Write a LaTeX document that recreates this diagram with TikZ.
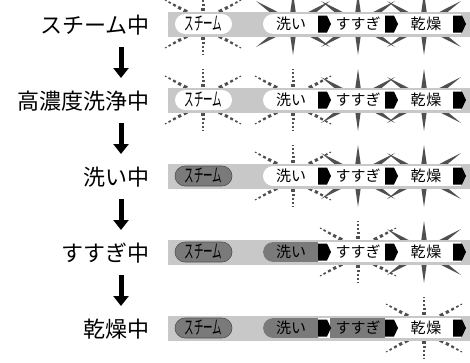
\documentclass[tikz,border=0pt]{standalone}
\usepackage{fontspec}
\newfontfamily\jp{Noto Sans CJK JP}
\usetikzlibrary{calc,arrows.meta}
\definecolor{barg}{HTML}{C8C8C8}
\definecolor{darkg}{HTML}{7A7A7A}
\definecolor{spikec}{HTML}{505050}
\newcommand{\spk}[2]{\fill[spikec] ($(#1)!3pt!90:(#2)$) -- ($(#1)!3pt!-90:(#2)$) -- (#2) -- cycle;}
\newcommand{\dspk}[2]{\foreach \a/\b/\w in {0/0.15/3.6,0.27/0.4/3.0,0.51/0.63/2.3,0.74/0.84/1.7,0.93/1/1.1}{\draw[spikec,line width=\w pt] ($(#1)!\a!(#2)$) -- ($(#1)!\b!(#2)$);}}
\newcommand{\raysS}[2]{\begin{scope}[shift={(#1,#2)}]
 \spk{0,-10}{0,-31}\spk{0,10}{0,31}
 \spk{14,-8}{37,-23}\spk{-14,-8}{-37,-23}\spk{14,8}{37,23}\spk{-14,8}{-37,23}
 \end{scope}}
\newcommand{\raysD}[2]{\begin{scope}[shift={(#1,#2)}]
 \dspk{0,-13}{0,-31}\dspk{0,13}{0,31}
 \dspk{16,-12}{38,-24}\dspk{-16,-12}{-38,-24}\dspk{16,12}{38,24}\dspk{-16,12}{-38,24}
 \end{scope}}
\newcommand{\rowbar}[1]{%
 \fill[barg] (168,#1-12.5) rectangle (470,#1+12.5);
 \fill[white] (273,#1-10) rectangle (461,#1+10);
 \fill[white] (273,#1) circle[radius=10pt];}
\newcommand{\darkwash}[1]{\fill[darkg] (273,#1-10) rectangle (318,#1+10); \fill[darkg] (273,#1) circle[radius=10pt];}
\newcommand{\darkrinse}[1]{\fill[darkg] (330,#1-10) rectangle (385,#1+10);}
\newcommand{\mrk}[2]{\fill[black] (#1,#2-8.5) -- (#1+9,#2-8.5) -- (#1+13,#2) -- (#1+9,#2+8.5) -- (#1,#2+8.5) -- cycle;}
\newcommand{\rowfront}[3]{%
 \mrk{318}{#1}\mrk{385}{#1}\mrk{453}{#1}
 \node[seg] (wash#2) at (291,#1) {洗い};
 \node[seg] (rinse#2) at (358,#1) {すすぎ};
 \node[seg] (dry#2) at (426,#1) {乾\kern1pt 燥};
 \node[pill, #3] (steam#2) at (203.5,#1) {\scalebox{0.5}[1]{スチーム}};}
\begin{document}
\begin{tikzpicture}[x=1pt,y=-1pt,
  lbl/.style={anchor=east, font=\jp\fontsize{22}{22}\selectfont, inner sep=0},
  seg/.style={font=\jp\fontsize{15}{15}\selectfont, inner sep=0},
  pill/.style={rounded corners=10pt, minimum width=57pt, minimum height=20pt, inner sep=0, font=\jp\fontsize{19}{19}\selectfont},
  pillon/.style={fill=white},
  pilloff/.style={fill=darkg, draw=spikec, line width=0.6pt},
  flow/.style={line width=5pt, -{Triangle[width=15pt,length=10pt]}}]
\useasboundingbox (0,0) rectangle (470,362);
% rays
\raysD{203}{24}\raysS{293}{24}\raysS{358}{24}\raysS{424}{24}
\raysD{203}{100}\raysD{293}{100}\raysS{358}{100}\raysS{424}{100}
\raysD{293}{176}\raysS{358}{176}\raysS{424}{176}
\raysD{358}{252}\raysS{424}{252}
\raysD{424}{328}
% bars
\rowbar{24}\rowbar{100}\rowbar{176}\rowbar{252}\rowbar{328}
\darkwash{252}\darkwash{328}\darkrinse{328}
\rowfront{24}{1}{pillon}
\rowfront{100}{2}{pillon}
\rowfront{176}{3}{pilloff}
\rowfront{252}{4}{pilloff}
\rowfront{328}{5}{pilloff}
% labels
\node[lbl] (l1) at (150,25) {スチーム中};
\node[lbl] (l2) at (150,101) {高濃度洗浄中};
\node[lbl] (l3) at (150,177) {洗い中};
\node[lbl] (l4) at (150,253) {すすぎ中};
\node[lbl] (l5) at (150,329) {乾燥中};
% arrows
\coordinate (a1) at (121,47); \coordinate (b1) at (121,78);
\coordinate (a2) at (121,123); \coordinate (b2) at (121,154);
\coordinate (a3) at (121,199); \coordinate (b3) at (121,230);
\coordinate (a4) at (121,275); \coordinate (b4) at (121,306);
\draw[flow] (a1) -- (b1);
\draw[flow] (a2) -- (b2);
\draw[flow] (a3) -- (b3);
\draw[flow] (a4) -- (b4);
\end{tikzpicture}
\end{document}
